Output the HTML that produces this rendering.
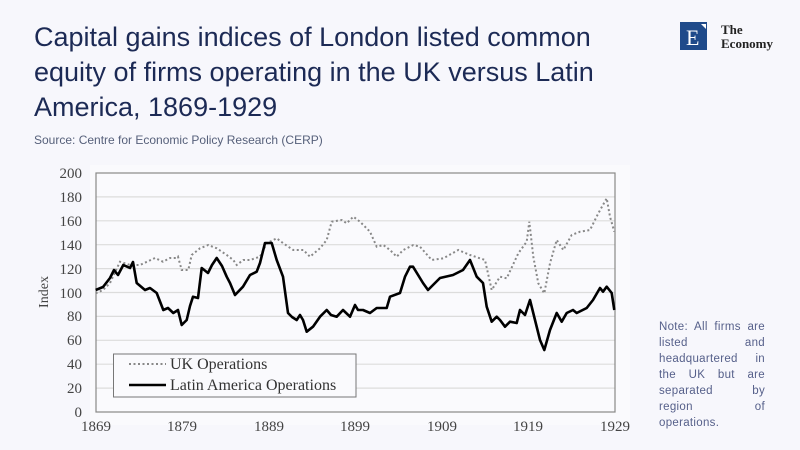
<!DOCTYPE html>
<html><head><meta charset="utf-8"><style>
body{margin:0;width:800px;height:450px;background:#f7f7fc;position:relative;overflow:hidden;font-family:"Liberation Sans",sans-serif}
.t{position:absolute;left:34px;top:20px;font-size:27px;line-height:35px;color:#1c2a55;width:600px}
.s{position:absolute;left:34px;top:133px;font-size:12px;color:#56607a}
.n{position:absolute;left:659px;top:319px;width:106px;font-size:11.5px;line-height:16px;color:#56608a;text-align:justify;text-align-last:left;letter-spacing:0.3px}
</style></head><body>
<div class="t">Capital gains indices of London listed common equity of firms operating in the UK versus Latin America, 1869-1929</div>
<div class="s">Source: Centre for Economic Policy Research (CERP)</div>
<div class="n">Note: All firms are listed and headquartered in the UK but are separated by region of operations.</div>
<svg width="800" height="450" style="position:absolute;left:0;top:0">
<rect x="680" y="22" width="27" height="28" fill="#1f4a8a"/>
<text x="686" y="45" font-family="Liberation Serif" font-size="22" fill="#fff">E</text>
<polygon points="701,24 706,24 706,29" fill="#fff"/>
<text x="721" y="34" font-family="Liberation Serif" font-size="13" font-weight="bold" fill="#222">The</text>
<text x="721" y="48" font-family="Liberation Serif" font-size="13" font-weight="bold" fill="#222">Economy</text>
<rect x="90" y="165" width="540" height="260" fill="#fafafd"/>
<g stroke="#dcdcdc" stroke-width="1.2">
<line x1="96" x2="615" y1="196.9" y2="196.9"/><line x1="96" x2="615" y1="220.8" y2="220.8"/><line x1="96" x2="615" y1="244.7" y2="244.7"/><line x1="96" x2="615" y1="268.6" y2="268.6"/><line x1="96" x2="615" y1="292.5" y2="292.5"/><line x1="96" x2="615" y1="316.4" y2="316.4"/><line x1="96" x2="615" y1="340.3" y2="340.3"/><line x1="96" x2="615" y1="364.2" y2="364.2"/><line x1="96" x2="615" y1="388.1" y2="388.1"/>
</g>
<rect x="96" y="173" width="519" height="239" fill="none" stroke="#888" stroke-width="1.2"/>
<g font-family="Liberation Serif" font-size="15" fill="#444" text-anchor="end">
<text x="82" y="178">200</text><text x="82" y="202">180</text><text x="82" y="226">160</text><text x="82" y="250">140</text><text x="82" y="274">120</text><text x="82" y="298">100</text><text x="82" y="321">80</text><text x="82" y="345">60</text><text x="82" y="369">40</text><text x="82" y="393">20</text><text x="82" y="417">0</text>
</g>
<g font-family="Liberation Serif" font-size="15" fill="#444" text-anchor="middle">
<text x="96" y="431">1869</text><text x="182" y="431">1879</text><text x="269" y="431">1889</text><text x="355" y="431">1899</text><text x="442" y="431">1909</text><text x="528" y="431">1919</text><text x="615" y="431">1929</text>
</g>
<text transform="translate(48,292) rotate(-90)" font-family="Liberation Serif" font-size="14" fill="#444" text-anchor="middle">Index</text>
<polyline fill="none" stroke="#888" stroke-width="2" stroke-dasharray="2,2.5" points="95.7,293.3 103,290 110,283 120,261.7 130,265 140,265 155,258 163,261.7 170,258 176.7,258 178,256.7 181.7,270 188.3,270 191.7,255 200,248.3 208.3,245 216.7,248.3 226.7,255 233.3,260 236.7,265 243.3,260 250,260 260,256.7 266.7,243.3 276.7,238.3 283.3,243.3 293.3,250 303.3,250 310,256.7 320,248.3 326.7,240 331.7,221.7 341.7,220 346.7,223.3 353.3,216.7 360,221.7 370,231.7 376.7,246.7 383.3,245 390,250 396.7,256.7 403.3,250 413.3,245 420,246.7 431.7,260 443.3,258.3 458.3,250 470,255 480,258.3 485,260 491.7,290 500,276.7 506.7,278.3 518.3,253.3 526.7,241.7 529.3,221.7 533.3,256.7 538.3,283.3 544.3,293.3 550,263.3 556.7,240 563.3,250 571.7,235 580,231.7 590,230 598.3,213.3 606.7,198.3 610,216.7 614.3,231.7"/>
<polyline fill="none" stroke="#000" stroke-width="2.6" stroke-linejoin="round" points="95.7,290 103,287 110,278 114,270 118,275 123.3,265 130,268 133,262 136.7,283 145,290 150,288 156.7,293 163.3,310 168,308 173.3,313 178,310 181.7,325 186.7,320 190,306 193,296.7 198,298 201.7,268 208,273 212,265 216.7,258 222,266 226.7,276.7 230,283 235,295 243,286.7 250,275 256.7,271.7 260,263 265,243 271.7,243 276.7,260 283,276.7 288,313 292,317 296.7,320 300,315 303,320 306.7,331.7 313,326.7 320,316.7 326.7,310 331,315 336.7,316.7 343,310 350,316.7 355,305 358,310 363,310 370,313 376.7,308 386.7,308 390,296.7 400,293 405,276.7 410,266.7 413,266.7 423,283 428,290 434,284 440,278 453,275 463,270 470,260 476.7,276.7 483,283 486.7,306.7 491.7,321.7 496.7,316.7 500,320 505,326.7 510,321.7 516.7,323 520,310 525,315 530,300 535,320 540,340 544.3,350 550,330 556.7,313 561.7,321.7 566.7,313 573,310 576.7,313 586.7,308 593,300 600,288 603,291.7 606.7,286.7 611.7,293 614.3,310"/>
<rect x="113.5" y="354" width="242.5" height="43" fill="#fafafd" stroke="#777" stroke-width="1"/>
<line x1="129" x2="166" y1="364" y2="364" stroke="#888" stroke-width="2" stroke-dasharray="2,2.5"/>
<line x1="129" x2="166" y1="385" y2="385" stroke="#000" stroke-width="2.6"/>
<g font-family="Liberation Serif" font-size="16" fill="#333">
<text x="170" y="369">UK Operations</text><text x="170" y="390">Latin America Operations</text>
</g>
</svg>
</body></html>
